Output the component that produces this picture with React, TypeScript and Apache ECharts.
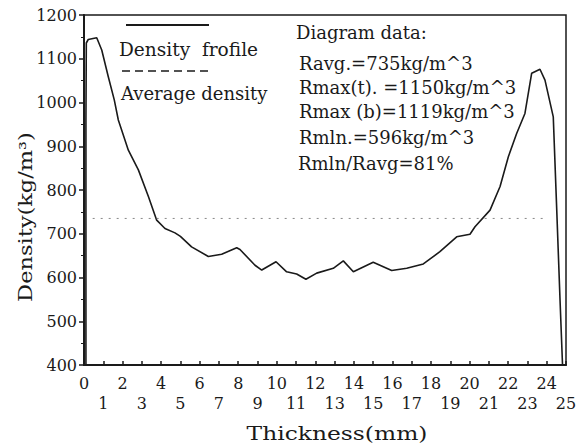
import React, { useEffect, useRef } from "react";
import * as echarts from "echarts";

const thickness = [0.1, 0.1, 0.12, 0.22, 0.66, 0.92, 1.26, 1.57, 1.78, 2.3, 2.82, 3.34, 3.77, 4.2, 4.72, 5.0, 5.58, 6.45, 7.14, 7.92, 8.09, 8.87, 9.22, 9.96, 10.51, 11.03, 11.51, 12.07, 12.93, 13.45, 13.97, 15.0, 15.96, 16.74, 17.6, 18.46, 19.33, 20.02, 20.28, 21.06, 21.58, 22.01, 22.44, 22.87, 23.22, 23.65, 23.91, 24.34, 24.52, 24.69, 24.82];
const density = [400, 960, 1136, 1144, 1148, 1120, 1059, 1006, 960, 891, 846, 785, 731, 712, 702, 694, 670, 648, 653, 668, 664, 628, 617, 636, 613, 608, 596, 610, 621, 638, 613, 635, 616, 621, 631, 659, 693, 699, 716, 754, 808, 876, 929, 975, 1067, 1076, 1051, 967, 754, 549, 400];

const averageX = [0.45, 23.8];
const averageY = [735, 735];

const yTicks = { min: 400, max: 1200, interval: 100 };
const xTicks = { min: 0, max: 25, interval: 1 };

const infoLines = [
  "Diagram data:",
  "Ravg.=735kg/m^3",
  "Rmax(t). =1150kg/m^3",
  "Rmax (b)=1119kg/m^3",
  "Rmln.=596kg/m^3",
  "Rmln/Ravg=81%",
];
const legendLabels = ["Density  frofile", "Average density"];
const xName = "Thickness(mm)";
const yName = "Density(kg/m³)";

const FONT = "DejaVu Serif";
const INK = "#1a1a1a";

export default function App() {
  const ref = useRef<HTMLDivElement>(null);
  useEffect(() => {
    if (!ref.current) return;
    const chart = echarts.init(ref.current, undefined, { renderer: "svg" });
    const infoY = [32, 63, 87, 111, 137, 163];
    const infoX = [296, 299, 299, 299, 299, 298];
    const baseX = {
      type: "value",
      position: "bottom",
      offset: 0,
      min: xTicks.min,
      max: xTicks.max,
      interval: xTicks.interval,
      splitLine: { show: false },
    };
    const labelBase = {
      color: INK,
      fontFamily: FONT,
      fontSize: 16,
      showMaxLabel: true,
      showMinLabel: true,
      hideOverlap: false,
    };
    chart.setOption({
      animation: false,
      backgroundColor: "#fff",
      grid: {
        left: 84,
        top: 15,
        right: 22,
        bottom: 81,
        show: true,
        borderColor: INK,
        borderWidth: 1.5,
      },
      xAxis: [
        {
          ...baseX,
          axisLine: { show: true, lineStyle: { color: INK, width: 2 } },
          axisTick: { show: true, inside: true, length: 4, lineStyle: { color: INK, width: 1.5 } },
          axisLabel: {
            ...labelBase,
            margin: 10,
            formatter: (v: number) => (v % 2 === 0 ? String(v) : ""),
          },
        },
        {
          ...baseX,
          axisLine: { show: false },
          axisTick: { show: false },
          axisLabel: {
            ...labelBase,
            margin: 30,
            formatter: (v: number) => (v % 2 === 1 ? String(v) : ""),
          },
        },
      ],
      yAxis: {
        type: "value",
        min: yTicks.min,
        max: yTicks.max,
        interval: yTicks.interval,
        axisLine: { show: true, lineStyle: { color: INK, width: 2 } },
        axisTick: { show: true, length: 5, lineStyle: { color: INK, width: 1.5 } },
        minorTick: { show: true, splitNumber: 2, length: 3, lineStyle: { color: INK, width: 1 } },
        splitLine: { show: false },
        axisLabel: {
          color: INK, fontFamily: FONT, fontSize: 16, margin: 7,
          formatter: (v: number) => String(v),
        },
      },
      series: [
        {
          name: legendLabels[0],
          type: "line",
          xAxisIndex: 0,
          data: thickness.map((x, i) => [x, density[i]]),
          showSymbol: false,
          lineStyle: { color: INK, width: 1.6 },
        },
        {
          name: legendLabels[1],
          type: "line",
          xAxisIndex: 0,
          data: averageX.map((x, i) => [x, averageY[i]]),
          showSymbol: false,
          lineStyle: { color: "#888", width: 1, type: [2, 6] },
        },
      ],
      graphic: [
        { type: "line", shape: { x1: 126, y1: 25, x2: 209, y2: 25 }, style: { stroke: INK, lineWidth: 2 } },
        { type: "line", shape: { x1: 122, y1: 71, x2: 210, y2: 71 }, style: { stroke: INK, lineWidth: 1.5, lineDash: [8, 5] } },
        {
          type: "text", x: 119, y: 50, scaleX: 1.03,
          style: { text: legendLabels[0], fontFamily: FONT, fontSize: 18, fill: INK, textAlign: "left", textVerticalAlign: "middle" },
        },
        {
          type: "text", x: 121, y: 93,
          style: { text: legendLabels[1], fontFamily: FONT, fontSize: 18, fill: INK, textAlign: "left", textVerticalAlign: "middle" },
        },
        ...infoLines.map((t, i) => ({
          type: "text", x: infoX[i], y: infoY[i],
          style: { text: t, fontFamily: FONT, fontSize: 18, fill: INK, textAlign: "left", textVerticalAlign: "middle" },
        })),
        {
          type: "text", x: 337, y: 434, scaleX: 1.3,
          style: { text: xName, fontFamily: FONT, fontSize: 18, fill: INK, textAlign: "center", textVerticalAlign: "middle" },
        },
        {
          type: "text", x: 26, y: 217, rotation: Math.PI / 2, scaleX: 1.25,
          style: { text: yName, fontFamily: FONT, fontSize: 18, fill: INK, textAlign: "center", textVerticalAlign: "middle" },
        },
      ],
    });
    return () => chart.dispose();
  }, []);
  return (
    <div
      ref={ref}
      style={{ position: "fixed", left: 0, top: 0, width: 588, height: 446 }}
    />
  );
}
